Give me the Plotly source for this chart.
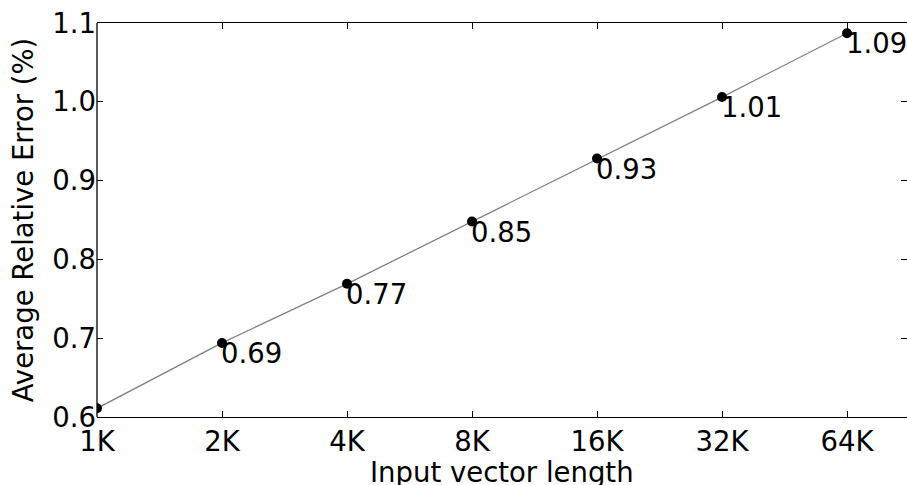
import plotly.graph_objects as go

categories = ["1K", "2K", "4K", "8K", "16K", "32K", "64K"]
errors = [0.611, 0.694, 0.769, 0.848, 0.928, 1.006, 1.087]
labels = ["", "0.69", "0.77", "0.85", "0.93", "1.01", "1.09"]
y_ticks = [0.6, 0.7, 0.8, 0.9, 1.0, 1.1]
x_title = "Input vector length"
y_title = "Average Relative Error (%)"

FONT = "DejaVu Sans"
FS = 27.5
xpos = list(range(len(categories)))

fig = go.Figure()
fig.add_trace(go.Scatter(
    x=xpos, y=errors, mode="lines+markers",
    line=dict(color="#808080", width=1.3),
    marker=dict(color="black", size=10),
    cliponaxis=True, showlegend=False, hoverinfo="skip",
))

for xv, yv, t in zip(xpos, errors, labels):
    if t:
        fig.add_annotation(x=xv, y=yv, text=t, showarrow=False,
                           xanchor="left", yanchor="top", xshift=-3, yshift=8,
                           font=dict(family=FONT, size=FS, color="black"))

# x-axis title placed explicitly below the tick labels
fig.add_annotation(xref="paper", yref="paper", x=0.5, y=0, yshift=-73,
                   xanchor="center", yanchor="bottom", showarrow=False,
                   text=x_title, font=dict(family=FONT, size=FS, color="black"))

fig.add_shape(type="line", xref="paper", yref="paper", x0=0, x1=0, y0=0, y1=1,
              line=dict(color="black", width=1.3))

fig.update_xaxes(
    range=[0, 6.48], tickmode="array", tickvals=xpos, ticktext=categories,
    ticks="inside", ticklen=6, tickwidth=1, tickcolor="black",
    showline=True, linecolor="black", linewidth=1.3, mirror="ticks",
    showgrid=False, zeroline=False,
    tickfont=dict(family=FONT, size=FS, color="black"),
)
fig.update_yaxes(
    range=[0.6, 1.1], tickmode="array", tickvals=y_ticks,
    ticktext=[f"{v:.1f}" for v in y_ticks],
    ticks="inside", ticklen=6, tickwidth=1, tickcolor="black",
    showline=False, mirror="ticks",
    showgrid=False, zeroline=False,
    tickfont=dict(family=FONT, size=FS, color="black"),
    title=dict(text=y_title, font=dict(family=FONT, size=FS, color="black"), standoff=10),
)

fig.update_layout(
    width=907, height=485,
    margin=dict(l=97, r=0, t=23, b=68),
    paper_bgcolor="white", plot_bgcolor="white",
    font=dict(family=FONT, color="black"),
)

fig.write_html("out.html", config={"displayModeBar": False},
               post_script="document.body.style.margin='0';document.body.style.overflow='hidden';")
